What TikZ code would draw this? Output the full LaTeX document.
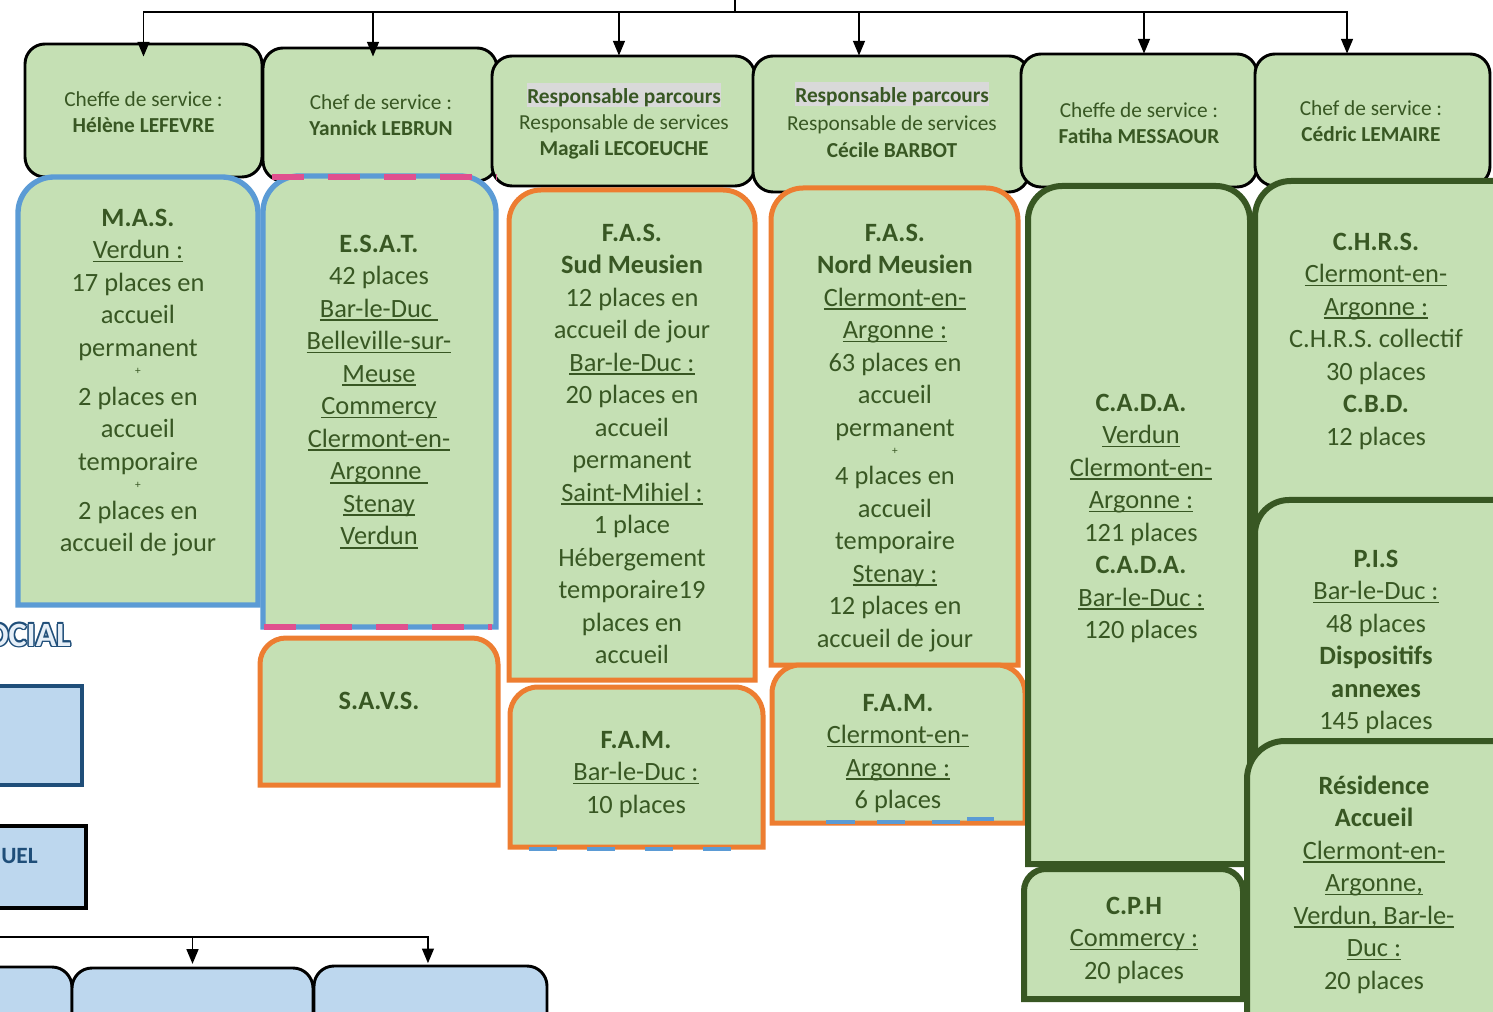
\documentclass[tikz,border=0pt]{standalone}
\usepackage{fontspec}
\setmainfont{Carlito}
\usetikzlibrary{arrows.meta,fit}
\definecolor{gfill}{HTML}{C5E0B4}
\definecolor{tg}{HTML}{385723}
\definecolor{bborder}{HTML}{5B9BD5}
\definecolor{oborder}{HTML}{ED7D31}
\definecolor{pinkd}{HTML}{E0508E}
\definecolor{lblue}{HTML}{BDD7EE}
\definecolor{dblue}{HTML}{1F4E79}
\definecolor{hl}{HTML}{D9D9D9}
\definecolor{olight}{HTML}{E6EFF8}
\newsavebox\ubox
\newcommand\uu[1]{\sbox\ubox{#1}\rlap{\rule[-2.8pt]{\wd\ubox}{1.2pt}}\usebox\ubox}
\newcommand\pl{{\fontsize{8.5}{9}\selectfont +}}
\newcommand\hlt[1]{{\setlength{\fboxsep}{0pt}\colorbox{hl}{\rule[-3pt]{0pt}{18pt}#1}}}
\newcommand\outl[1]{\leavevmode
 \rlap{\color{dblue}\kern-1.1pt#1}\rlap{\color{dblue}\kern1.1pt#1}%
 \rlap{\color{dblue}\raisebox{1.1pt}{#1}}\rlap{\color{dblue}\raisebox{-1.1pt}{#1}}%
 \rlap{\color{dblue}\kern.8pt\raisebox{.8pt}{#1}}\rlap{\color{dblue}\kern-.8pt\raisebox{.8pt}{#1}}%
 \rlap{\color{dblue}\kern.8pt\raisebox{-.8pt}{#1}}\rlap{\color{dblue}\kern-.8pt\raisebox{-.8pt}{#1}}%
 {\color{olight}#1}}
% box with rounded top corners: style, x1, y1, x2, y2, radius (px)
\newcommand\tbox[6]{\path[#1] (#2,#5) -- (#2,{#3+#6})
  arc[start angle=180,end angle=90,radius={#6*0.75pt}] -- ({#4-#6},#3)
  arc[start angle=90,end angle=0,radius={#6*0.75pt}] -- (#4,#5) -- cycle;}
\tikzset{
  hdr/.style={draw=black, line width=2.2pt, fill=gfill, rounded corners=15pt, inner sep=0pt},
  bbox/.style={draw=black, line width=2.2pt, fill=lblue, rounded corners=15pt, inner sep=0pt},
  bluebox/.style={draw=bborder, line width=4pt, fill=gfill},
  orangebox/.style={draw=oborder, line width=3.75pt, fill=gfill},
  dgbox/.style={draw=tg, line width=4.5pt, fill=gfill},
  btxt/.style={font=\fontsize{19.8}{24.4}\selectfont, text=tg, align=center, inner sep=0pt, anchor=north},
  htxt/.style={font=\fontsize{16}{19.5}\selectfont, text=tg, align=center, inner sep=0pt, anchor=north},
  conn/.style={draw=black, line width=1pt},
  arr/.style={conn, -{Triangle[width=9pt,length=11pt]}},
  pinkdash/.style={draw=pinkd, line width=4.5pt, dash pattern=on 24pt off 18pt},
  bluedash/.style={draw=bborder, line width=3.5pt},
}
\begin{document}
\begin{tikzpicture}[x=0.75pt,y=-0.75pt]
\useasboundingbox (0,0) rectangle (1493,1012);
\clip (0,0) rectangle (1493,1012);

% left partial elements
\node[anchor=base east, inner sep=0pt, font=\fontsize{25.5}{30}\selectfont\bfseries] (social) at (71,646) {\outl{SOCIAL}};
\node[draw=dblue, line width=2.4pt, fill=lblue, inner sep=0pt, fit={(-20,686) (82,785)}] (lb1) {};
\node[draw=black, line width=3pt, fill=lblue, inner sep=0pt, fit={(-20,826) (86,908)}] (lb2) {};
\node[anchor=base east, inner sep=0pt, text=dblue, font=\fontsize{17.5}{20}\selectfont\bfseries] (uel) at (38,863) {UEL};

% header boxes
\node[hdr, fit={(25,44) (262,177)}] (h1) {};
\node[hdr, fit={(263,48) (497,181)}] (h2) {};
\node[hdr, fit={(492,56) (755,186)}] (h3) {};
\node[hdr, fit={(753,56) (1029,192)}] (h4) {};
\node[hdr, fit={(1021,54) (1257,187)}] (h5) {};
\node[hdr, fit={(1255,54) (1490,186)}] (h6) {};

\node[htxt] (h1t) at (143.5,87.8) {\strut Cheffe de service :\\\textbf{Hélène LEFEVRE}};
\node[htxt] (h2t) at (381,90.8) {\strut Chef de service :\\\textbf{Yannick LEBRUN}};
\node[htxt] (h3t) at (624,83) {\hlt{\textbf{Responsable parcours}}\\Responsable de services\\\textbf{Magali LECOEUCHE}};
\node[htxt] (h4t) at (892,82) {\hlt{\textbf{Responsable parcours}}\\[1.5pt]Responsable de services\\[1pt]\textbf{Cécile BARBOT}};
\node[htxt] (h5t) at (1139,98.8) {\strut Cheffe de service :\\\textbf{Fatiha MESSAOUR}};
\node[htxt] (h6t) at (1371,96.8) {\strut Chef de service :\\\textbf{Cédric LEMAIRE}};

% body boxes
\tbox{bluebox}{18}{177}{258}{605}{36}
\node[btxt] (mas) at (138,203) {\strut\textbf{M.A.S.}\\\uu{Verdun :}\\17 places en\\accueil\\permanent\\[-10.5pt]\pl\\[-1.5pt]2 places en\\accueil\\temporaire\\[-10.5pt]\pl\\[-1.5pt]2 places en\\accueil de jour};

\tbox{bluebox}{263}{176}{496}{627}{36}
\draw[pinkdash] (272,177) -- (497,177);
\draw[pinkdash] (264,627) -- (492,627);
\node[btxt] (esat) at (379,229) {\strut\textbf{E.S.A.T.}\\42 places\\\uu{Bar-le-Duc\ }\\\uu{Belleville-sur-}\\\uu{Meuse}\\\uu{Commercy}\\\uu{Clermont-en-}\\\uu{Argonne\ }\\\uu{Stenay}\\\uu{Verdun}};

\tbox{orangebox}{509}{190}{755}{680}{32}
\node[btxt] (fass) at (632,218) {\strut\textbf{F.A.S.}\\\textbf{Sud Meusien}\\12 places en\\accueil de jour\\\uu{Bar-le-Duc :}\\20 places en\\accueil\\permanent\\\uu{Saint-Mihiel :}\\1 place\\Hébergement\\temporaire19\\places en\\accueil};

\tbox{orangebox}{771}{188}{1018}{665}{32}
\node[btxt] (fasn) at (895,218) {\strut\textbf{F.A.S.}\\\textbf{Nord Meusien}\\\uu{Clermont-en-}\\\uu{Argonne :}\\63 places en\\accueil\\permanent\\[-10.5pt]\pl\\[-2pt]4 places en\\accueil\\temporaire\\\uu{Stenay :}\\12 places en\\accueil de jour};

\tbox{orangebox}{260}{638}{498}{785}{26}
\node[btxt] (savs) at (379,686) {\strut\textbf{S.A.V.S.}};

\tbox{orangebox}{510}{687}{763}{847}{28}
\draw[bluedash, dash pattern=on 21pt off 22.5pt] (529,849) -- (735,849);
\node[btxt] (famb) at (636,725) {\strut\textbf{F.A.M.}\\\uu{Bar-le-Duc :}\\10 places};

\tbox{orangebox}{772}{665}{1025}{823}{28}
\draw[bluedash] (826,822) -- (855,822) (877,822) -- (905,822) (932,822) -- (960,822) (967,819) -- (994,819);
\node[btxt] (famc) at (898,688) {\strut\textbf{F.A.M.}\\\uu{Clermont-en-}\\\uu{Argonne :}\\6 places};

\tbox{dgbox}{1028}{186}{1250}{864}{34}
\node[btxt] (cada) at (1141,388) {\strut\textbf{C.A.D.A.}\\\uu{Verdun}\\\uu{Clermont-en-}\\\uu{Argonne :}\\121 places\\\textbf{C.A.D.A.}\\\uu{Bar-le-Duc :}\\120 places};

\tbox{dgbox}{1024}{869}{1243}{999}{22}
\node[btxt] (cph) at (1134,891) {\strut\textbf{C.P.H}\\\uu{Commercy :}\\20 places};

\tbox{dgbox}{1255}{181}{1530}{540}{36}
\node[btxt] (chrs) at (1376,227) {\strut\textbf{C.H.R.S.}\\\uu{Clermont-en-}\\\uu{Argonne :}\\C.H.R.S. collectif\\30 places\\\textbf{C.B.D.}\\12 places};

\tbox{dgbox}{1255}{500}{1530}{780}{34}
\node[btxt] (pis) at (1376,544) {\strut\textbf{P.I.S}\\\uu{Bar-le-Duc :}\\48 places\\\textbf{Dispositifs}\\\textbf{annexes}\\145 places};

\tbox{dgbox}{1247}{741}{1530}{1050}{38}
\node[btxt] (res) at (1374,771) {\strut\textbf{Résidence}\\\textbf{Accueil}\\\uu{Clermont-en-}\\\uu{Argonne,}\\\uu{Verdun, Bar-le-}\\\uu{Duc :}\\20 places};

% top connectors
\coordinate (top) at (735,-10);
\coordinate (hub) at (735,12);
\draw[conn] (top) -- (hub);
\draw[arr] (hub) -| ([yshift=-10.5pt]h1.north);
\draw[arr] (hub) -| ([xshift=-5.25pt,yshift=-7.5pt]h2.north);
\draw[arr] (hub) -| ([xshift=-3.4pt,yshift=-0.75pt]h3.north);
\draw[arr] (hub) -| ([xshift=-24pt,yshift=-0.75pt]h4.north);
\draw[arr] (hub) -| ([xshift=3.75pt,yshift=-0.75pt]h5.north);
\draw[arr] (hub) -| ([xshift=-19.1pt,yshift=-0.75pt]h6.north);

% bottom left boxes
\node[bbox, fit={(-40,967) (72,1060)}] (bb1) {};
\node[bbox, fit={(72,968) (313,1060)}] (bb2) {};
\node[bbox, fit={(314,966) (547,1060)}] (bb3) {};
\coordinate (hub2) at (-20,937);
\draw[arr] (hub2) -| ([yshift=2pt]bb2.north);
\draw[arr] (hub2) -| ([xshift=-1.9pt,yshift=1pt]bb3.north);
\end{tikzpicture}
\end{document}
